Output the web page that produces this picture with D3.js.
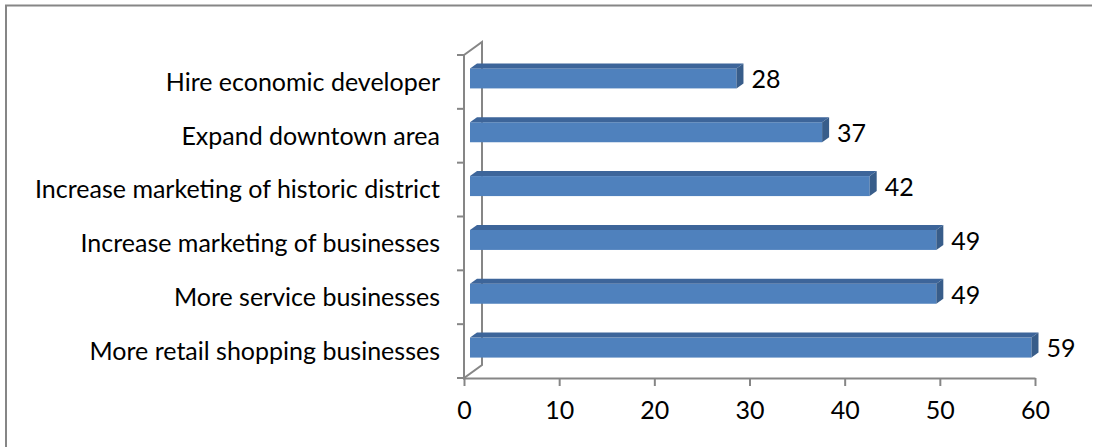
<!DOCTYPE html>
<html>
<head>
<meta charset="utf-8">
<script src="https://cdn.jsdelivr.net/npm/d3@7"></script>
<style>
  body { margin: 0; background: #fff; }
  svg text { font-family: Lato, "Open Sans", sans-serif; fill: #000; }
</style>
</head>
<body>
<div id="chart"></div>
<script>
const categories = [
    "Hire economic developer",
    "Expand downtown area",
    "Increase marketing of historic district",
    "Increase marketing of businesses",
    "More service businesses",
    "More retail shopping businesses"
];
const values = [28, 37, 42, 49, 49, 59];
const xTicks = [0, 10, 20, 30, 40, 50, 60];

const svgWidth = 1101;
const svgHeight = 447;

// 3d offsets (back wall depth, bar front shift, bar depth)
const wallDx = 18, wallDy = -13;
const barShiftX = 6, barShiftY = -3.5;
const barDx = 7, barDy = -5;
const barHeight = 20;

const axisColor = "#868686";
const fontSize = 25;

let mySvg = d3.select("#chart")
    .append("svg")
    .attr("width", svgWidth)
    .attr("height", svgHeight);

// frame (only top and left edges show)
mySvg.append("path")
    .attr("d", "M6,447 V5.5 H1092")
    .attr("fill", "none")
    .attr("stroke", axisColor)
    .attr("stroke-width", 2);

let x = d3.scaleLinear()
    .domain([0, 60])
    .range([464, 1035]);

let y = d3.scaleBand()
    .domain(categories)
    .range([55, 378]);

const x0 = x(0), yTop = y.range()[0], yBot = y.range()[1];

// side wall
mySvg.append("path")
    .attr("d", `M${x0},${yTop} L${x0 + wallDx},${yTop + wallDy} V${yBot + wallDy} L${x0},${yBot} Z`)
    .attr("fill", "none")
    .attr("stroke", axisColor)
    .attr("stroke-width", 2);

// category ticks
const catTicks = categories.map(d => y(d)).concat([yBot]);
mySvg.selectAll(".ytick")
    .data(catTicks)
    .enter()
    .append("line")
    .attr("x1", x0 - 7)
    .attr("x2", x0)
    .attr("y1", d => d)
    .attr("y2", d => d)
    .attr("stroke", axisColor)
    .attr("stroke-width", 2);

// x axis
let xAxis = d3.axisBottom(x)
    .tickValues(xTicks)
    .tickSizeInner(8)
    .tickSizeOuter(0)
    .tickPadding(15);

let gx = mySvg.append("g")
    .attr("transform", `translate(0, ${yBot})`)
    .call(xAxis);
gx.select(".domain").attr("stroke", axisColor).attr("stroke-width", 2);
gx.selectAll(".tick line").attr("stroke", axisColor).attr("stroke-width", 2);
gx.selectAll(".tick text")
    .attr("font-size", fontSize)
    .attr("font-family", "Lato, sans-serif")
    .attr("fill", "#000");

// bars
const rows = categories.map((c, i) => ({ name: c, value: values[i] }));

let bars = mySvg.selectAll(".bar")
    .data(rows)
    .enter()
    .append("g")
    .attr("class", "bar");

function barBox(d) {
    const cy = y(d.name) + y.bandwidth() / 2 + barShiftY;
    return {
        l: x(0) + barShiftX,
        r: x(d.value) + barShiftX,
        t: cy - barHeight / 2,
        b: cy + barHeight / 2
    };
}

bars.append("rect")
    .attr("x", d => barBox(d).l)
    .attr("y", d => barBox(d).t)
    .attr("width", d => barBox(d).r - barBox(d).l)
    .attr("height", barHeight)
    .attr("fill", "#4F81BD");

bars.append("path")
    .attr("d", d => {
        const b = barBox(d);
        return `M${b.l},${b.t} L${b.l + barDx},${b.t + barDy} L${b.r + barDx},${b.t + barDy} L${b.r},${b.t} Z`;
    })
    .attr("fill", "#3D659A");

bars.append("path")
    .attr("d", d => {
        const b = barBox(d);
        return `M${b.r},${b.t} L${b.r + barDx},${b.t + barDy} L${b.r + barDx},${b.b + barDy} L${b.r},${b.b} Z`;
    })
    .attr("fill", "#385D8A");

// value labels
bars.append("text")
    .attr("x", d => barBox(d).r + barDx + 8)
    .attr("y", d => (barBox(d).t + barBox(d).b) / 2 + 1)
    .attr("dy", "0.35em")
    .attr("font-size", fontSize)
    .text(d => d.value);

// category labels
mySvg.selectAll(".cat")
    .data(categories)
    .enter()
    .append("text")
    .attr("x", 440)
    .attr("y", d => y(d) + y.bandwidth() / 2)
    .attr("dy", "0.35em")
    .attr("text-anchor", "end")
    .attr("font-size", fontSize)
    .text(d => d);
</script>
</body>
</html>
